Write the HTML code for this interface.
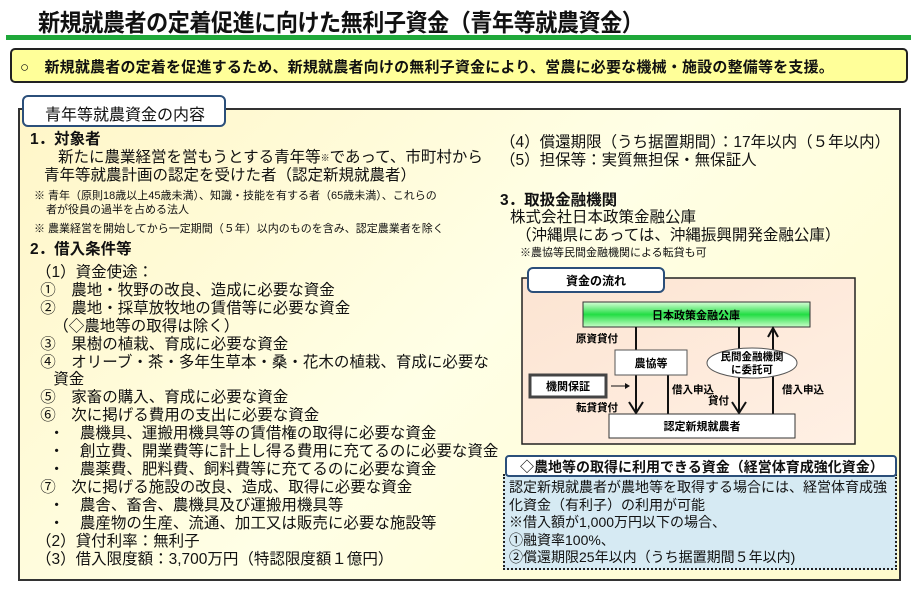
<!DOCTYPE html>
<html><head><meta charset="utf-8"><style>
*{margin:0;padding:0;box-sizing:border-box}
body{width:912px;height:596px;background:#fff;position:relative;overflow:hidden;font-family:"Liberation Sans","Noto Sans CJK JP",sans-serif;color:#111}
.a{position:absolute;white-space:nowrap}
.t{font-size:15.5px;line-height:18px}
.s{font-size:11px;line-height:14px}
</style></head><body>
<div class="a" style="left:38px;top:3px;font-size:24px;font-weight:bold;letter-spacing:-0.5px;transform:scaleX(0.92);transform-origin:left">新規就農者の定着促進に向けた無利子資金（青年等就農資金）</div>
<div class="a" style="left:6px;top:35px;width:905px;height:5px;background:#1fa83a"></div>
<div class="a" style="left:10px;top:48px;width:898px;height:35px;background:#ffff99;border:2px solid #222;border-radius:5px"></div>
<div class="a" style="left:20px;top:56px;font-size:15px;font-weight:bold;letter-spacing:0.2px">○　新規就農者の定着を促進するため、新規就農者向けの無利子資金により、営農に必要な機械・施設の整備等を支援。</div>

<div class="a" style="left:18px;top:108px;width:883px;height:473px;border:2px solid #333;background:linear-gradient(135deg,#fff6c8,#ffffe6 50%,#fffbcc)"></div>
<div class="a" style="left:22px;top:95px;width:204px;height:32px;background:#fff;border:2px solid #2b4f7a;border-radius:6px"></div>
<div class="a" style="left:45px;top:101px;font-size:16px">青年等就農資金の内容</div>

<div class="a t" style="left:30px;top:131px;font-weight:bold">1．対象者</div>
<div class="a t" style="left:58px;top:149px">新たに農業経営を営もうとする青年等<span style="font-size:9px;vertical-align:top">※</span>であって、市町村から</div>
<div class="a t" style="left:44px;top:167px">青年等就農計画の認定を受けた者（認定新規就農者）</div>
<div class="a s" style="left:34px;top:189px">※ 青年（原則18歳以上45歳未満）、知識・技能を有する者（65歳未満）、これらの</div>
<div class="a s" style="left:46px;top:203px">者が役員の過半を占める法人</div>
<div class="a s" style="left:34px;top:222px">※ 農業経営を開始してから一定期間（５年）以内のものを含み、認定農業者を除く</div>
<div class="a t" style="left:30px;top:241px;font-weight:bold">2．借入条件等</div>
<div class="a t" style="left:36px;top:264px;line-height:17.9px">（1）資金使途：<br>&nbsp;①　農地・牧野の改良、造成に必要な資金<br>&nbsp;②　農地・採草放牧地の賃借等に必要な資金<br>&nbsp;&nbsp;&nbsp;&nbsp;（◇農地等の取得は除く）<br>&nbsp;③　果樹の植栽、育成に必要な資金<br>&nbsp;④　オリーブ・茶・多年生草本・桑・花木の植栽、育成に必要な<br>&nbsp;&nbsp;&nbsp;&nbsp;資金<br>&nbsp;⑤　家畜の購入、育成に必要な資金<br>&nbsp;⑥　次に掲げる費用の支出に必要な資金<br>&nbsp;&nbsp;&nbsp;・　農機具、運搬用機具等の賃借権の取得に必要な資金<br>&nbsp;&nbsp;&nbsp;・　創立費、開業費等に計上し得る費用に充てるのに必要な資金<br>&nbsp;&nbsp;&nbsp;・　農薬費、肥料費、飼料費等に充てるのに必要な資金<br>&nbsp;⑦　次に掲げる施設の改良、造成、取得に必要な資金<br>&nbsp;&nbsp;&nbsp;・　農舎、畜舎、農機具及び運搬用機具等<br>&nbsp;&nbsp;&nbsp;・　農産物の生産、流通、加工又は販売に必要な施設等<br>（2）貸付利率：無利子<br>（3）借入限度額：3,700万円（特認限度額１億円）</div>

<div class="a t" style="left:500px;top:134px">（4）償還期限（うち据置期間）：17年以内（５年以内）</div>
<div class="a t" style="left:500px;top:152px">（5）担保等：実質無担保・無保証人</div>
<div class="a t" style="left:500px;top:192px;font-weight:bold">3．取扱金融機関</div>
<div class="a t" style="left:510px;top:209px">株式会社日本政策金融公庫</div>
<div class="a t" style="left:516px;top:227px">（沖縄県にあっては、沖縄振興開発金融公庫）</div>
<div class="a s" style="left:520px;top:246px">※農協等民間金融機関による転貸も可</div>

<svg class="a" style="left:0;top:0" width="912" height="596">
<defs><linearGradient id="g" x1="0" y1="0" x2="0" y2="1"><stop offset="0" stop-color="#d8ffd8"/><stop offset="0.5" stop-color="#22dd44"/><stop offset="1" stop-color="#c8ffc8"/></linearGradient>
<linearGradient id="p" x1="0" y1="0" x2="1" y2="1"><stop offset="0" stop-color="#fce4d2"/><stop offset="1" stop-color="#fff0e4"/></linearGradient></defs>
<rect x="522" y="278" width="333" height="166" fill="url(#p)" stroke="#222" stroke-width="1.5"/>
<rect x="528" y="268" width="136" height="24" rx="5" fill="#fff" stroke="#2b4f7a" stroke-width="2"/>
<text x="596" y="285" font-size="12" font-weight="bold" text-anchor="middle">資金の流れ</text>
<rect x="583" y="302" width="227" height="25" fill="url(#g)" stroke="#333"/>
<text x="696" y="319" font-size="11" font-weight="bold" text-anchor="middle">日本政策金融公庫</text>
<g stroke="#111" stroke-width="2" fill="none">
<line x1="636" y1="327" x2="636" y2="413"/><polyline points="629,402 636,413 643,402"/>
<line x1="739" y1="327" x2="739" y2="413"/><polyline points="732,402 739,413 746,402"/>
<line x1="668" y1="414" x2="668" y2="353"/><polyline points="663,362 668,353 673,362"/>
<line x1="773" y1="414" x2="773" y2="328"/><polyline points="768,337 773,328 778,337"/>
<line x1="611" y1="386" x2="625" y2="386" stroke-width="1"/>
</g>
<polygon points="625,383 630,386 625,389" fill="#111"/>
<rect x="615" y="350" width="72" height="25" fill="#fff" stroke="#555"/>
<text x="651" y="367" font-size="11" font-weight="bold" text-anchor="middle">農協等</text>
<ellipse cx="752" cy="363" rx="45" ry="15" fill="#fff" stroke="#555"/>
<text x="752" y="360" font-size="10.5" font-weight="bold" text-anchor="middle">民間金融機関</text>
<text x="752" y="373" font-size="10.5" font-weight="bold" text-anchor="middle">に委託可</text>
<rect x="530" y="375" width="76" height="22" fill="#fff" stroke="#444" stroke-width="3"/>
<rect x="532" y="377" width="72" height="18" fill="none" stroke="#fff" stroke-width="1"/>
<text x="568" y="390" font-size="11" font-weight="bold" text-anchor="middle">機関保証</text>
<rect x="609" y="414" width="186" height="24" fill="#fff" stroke="#333"/>
<text x="702" y="430" font-size="11" font-weight="bold" text-anchor="middle">認定新規就農者</text>
<g font-size="10.5" font-weight="bold">
<text x="576" y="342">原資貸付</text>
<text x="576" y="411">転貸貸付</text>
<text x="672" y="393">借入申込</text>
<text x="708" y="404">貸付</text>
<text x="782" y="393">借入申込</text>
</g>
</svg>

<div class="a" style="left:503px;top:474px;width:394px;height:96px;background:#d6eaf3;border:2px dotted #222"></div>
<div class="a" style="left:505px;top:455px;width:392px;height:22px;background:#fff;border:2px solid #2b4f7a;border-radius:4px"></div>
<div class="a" style="left:520px;top:457px;font-size:14px;font-weight:bold">◇農地等の取得に利用できる資金（経営体育成強化資金）</div>
<div class="a" style="left:509px;top:479px;font-size:14px;line-height:17.5px">認定新規就農者が農地等を取得する場合には、経営体育成強<br>化資金（有利子）の利用が可能<br>※借入額が1,000万円以下の場合、<br>①融資率100%、<br>②償還期限25年以内（うち据置期間５年以内)</div>
</body></html>
